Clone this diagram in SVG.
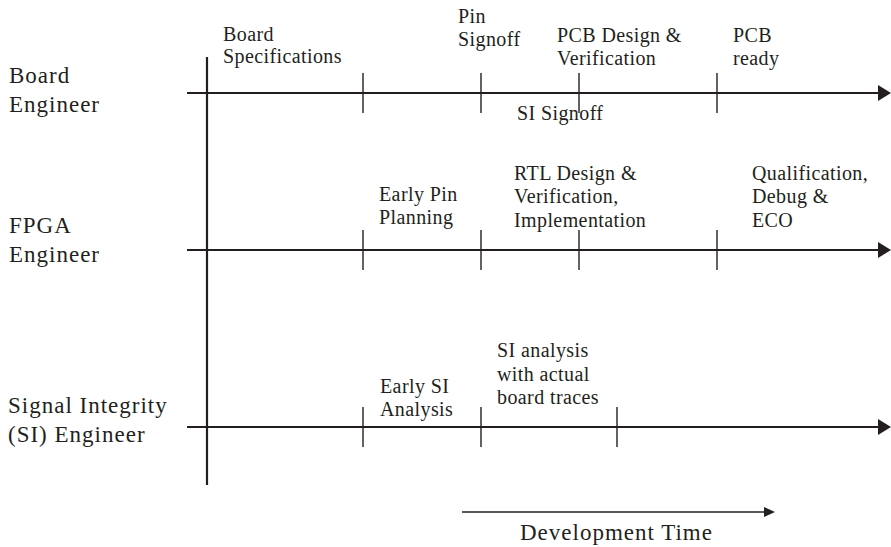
<svg xmlns="http://www.w3.org/2000/svg" width="891" height="547" viewBox="0 0 891 547">
  <defs>
    <style>
      .role { font-family: "Liberation Serif", "Times New Roman", serif; font-size: 23px; letter-spacing: 1px; fill: #231f20; }
      .task { font-family: "Liberation Serif", "Times New Roman", serif; font-size: 20px; letter-spacing: 0.4px; fill: #231f20; }
      .axis { stroke: #231f20; stroke-width: 2.2; fill: none; }
      .tick { stroke: #231f20; stroke-width: 1.4; fill: none; }
      .head { fill: #231f20; }
    </style>
  </defs>
  <rect width="891" height="547" fill="#ffffff"/>

  <!-- swim-lane axes, ticks and arrowheads -->
  <g id="connectors">
    <line class="axis" x1="207" y1="57" x2="207" y2="485"/>

    <line class="axis" x1="187" y1="93" x2="880" y2="93"/>
    <polygon class="head" points="878,85 891,93 878,101"/>
    <line class="axis" x1="187" y1="250" x2="880" y2="250"/>
    <polygon class="head" points="878,242 891,250 878,258"/>
    <line class="axis" x1="187" y1="427" x2="880" y2="427"/>
    <polygon class="head" points="878,419 891,427 878,435"/>

    <!-- milestone ticks -->
    <line class="tick" x1="363" y1="73" x2="363" y2="113"/>
    <line class="tick" x1="481" y1="73" x2="481" y2="113"/>
    <line class="tick" x1="579" y1="73" x2="579" y2="113"/>
    <line class="tick" x1="717" y1="73" x2="717" y2="113"/>

    <line class="tick" x1="363" y1="230" x2="363" y2="270"/>
    <line class="tick" x1="481" y1="230" x2="481" y2="270"/>
    <line class="tick" x1="579" y1="230" x2="579" y2="270"/>
    <line class="tick" x1="717" y1="230" x2="717" y2="270"/>

    <line class="tick" x1="363" y1="407" x2="363" y2="447"/>
    <line class="tick" x1="481" y1="407" x2="481" y2="447"/>
    <line class="tick" x1="617" y1="407" x2="617" y2="447"/>

    <!-- development time arrow -->
    <line x1="462" y1="512" x2="766" y2="512" stroke="#231f20" stroke-width="1.6"/>
    <polygon class="head" points="764,507 775,512 764,517"/>
  </g>

  <!-- lane labels -->
  <g id="board-engineer">
    <text class="role" x="9" y="83">Board</text>
    <text class="role" x="9" y="112">Engineer</text>
  </g>
  <g id="fpga-engineer">
    <text class="role" x="9" y="233">FPGA</text>
    <text class="role" x="9" y="262">Engineer</text>
  </g>
  <g id="si-engineer">
    <text class="role" x="8" y="413">Signal Integrity</text>
    <text class="role" x="8" y="442">(SI) Engineer</text>
  </g>

  <!-- board engineer milestones -->
  <g id="board-specifications">
    <text class="task" x="223" y="41">Board</text>
    <text class="task" x="223" y="63">Specifications</text>
  </g>
  <g id="pin-signoff">
    <text class="task" x="458" y="23">Pin</text>
    <text class="task" x="458" y="46">Signoff</text>
  </g>
  <g id="pcb-design">
    <text class="task" x="557" y="42">PCB Design &amp;</text>
    <text class="task" x="557" y="65">Verification</text>
  </g>
  <g id="pcb-ready">
    <text class="task" x="733" y="42">PCB</text>
    <text class="task" x="733" y="65">ready</text>
  </g>
  <g id="si-signoff">
    <text class="task" x="517" y="120">SI Signoff</text>
  </g>

  <!-- FPGA engineer milestones -->
  <g id="early-pin-planning">
    <text class="task" x="379" y="201">Early Pin</text>
    <text class="task" x="379" y="224">Planning</text>
  </g>
  <g id="rtl-design">
    <text class="task" x="514" y="180">RTL Design &amp;</text>
    <text class="task" x="514" y="203">Verification,</text>
    <text class="task" x="514" y="227">Implementation</text>
  </g>
  <g id="qualification">
    <text class="task" x="752" y="180">Qualification,</text>
    <text class="task" x="752" y="203">Debug &amp;</text>
    <text class="task" x="752" y="227">ECO</text>
  </g>

  <!-- SI engineer milestones -->
  <g id="early-si-analysis">
    <text class="task" x="380" y="393">Early SI</text>
    <text class="task" x="380" y="416">Analysis</text>
  </g>
  <g id="si-analysis-traces">
    <text class="task" x="497" y="357">SI analysis</text>
    <text class="task" x="497" y="381">with actual</text>
    <text class="task" x="497" y="404">board traces</text>
  </g>

  <g id="development-time">
    <text class="role" x="520" y="540">Development Time</text>
  </g>
</svg>
